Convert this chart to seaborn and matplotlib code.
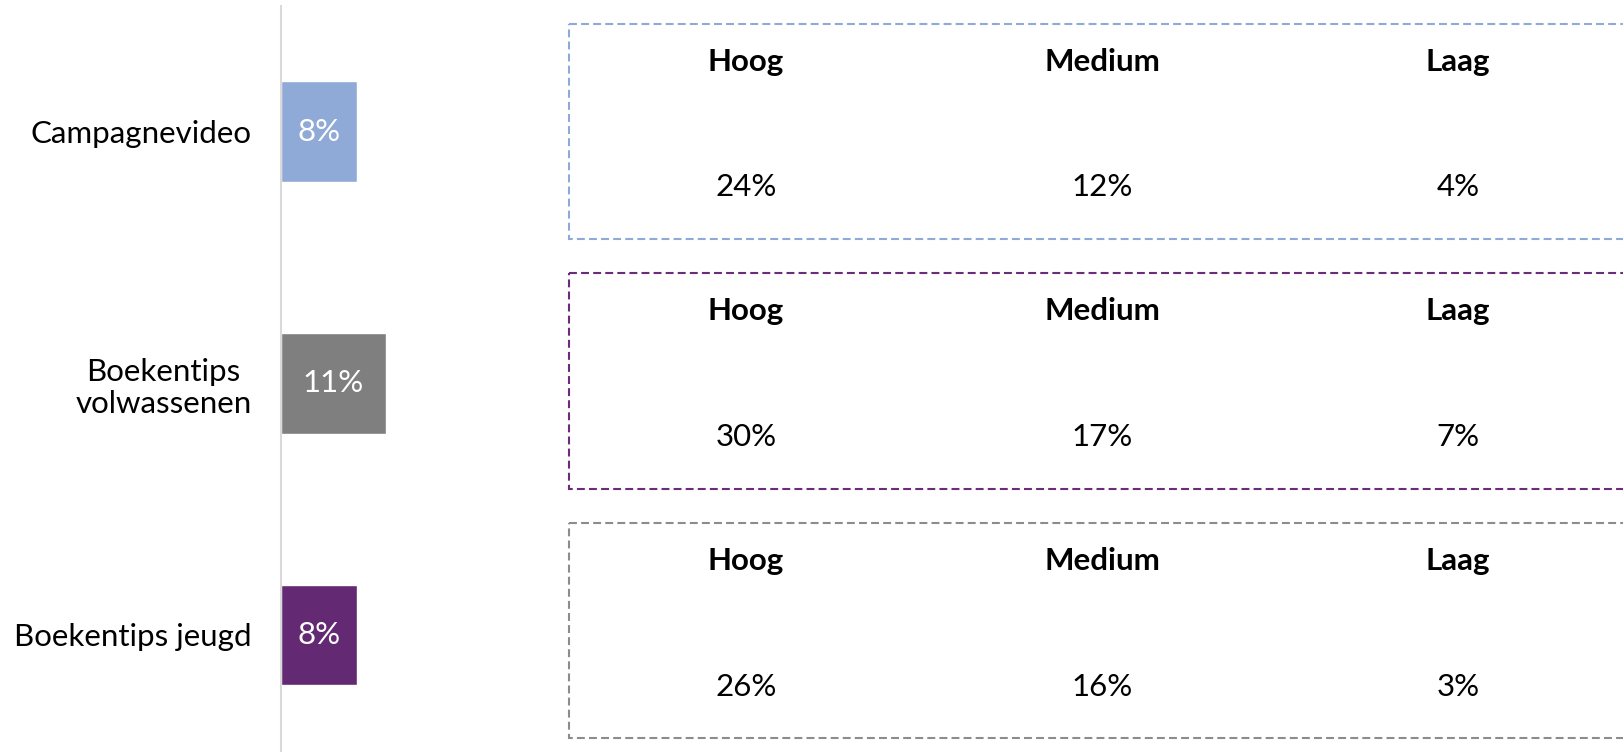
import matplotlib
matplotlib.use("Agg")
import matplotlib.pyplot as plt
from matplotlib.patches import Rectangle
import seaborn as sns
import pandas as pd

# Overall reach per channel and split by engagement level
channels = ["Campagnevideo", "Boekentips\nvolwassenen", "Boekentips jeugd"]
overall = [8, 11, 8]
levels = ["Hoog", "Medium", "Laag"]
hoog = [24, 30, 26]
medium = [12, 17, 16]
laag = [4, 7, 3]

bar_colors = ["#8FAAD6", "#7F7F7F", "#632A73"]
box_colors = ["#8FAAD6", "#6B2C7A", "#8C8C8C"]

sns.set_theme(style="white")
plt.rcParams["font.family"] = ["Lato", "DejaVu Sans"]

W, H = 1624, 752
fig = plt.figure(figsize=(W / 100, H / 100), dpi=100)

# Left: horizontal bars
ax = fig.add_axes([281 / W, 0, (549 - 281) / W, 1 - 6 / H])
df = pd.DataFrame({"channel": channels, "overall": overall})
sns.barplot(data=df, y="channel", x="overall", hue="channel",
            palette=bar_colors, orient="h", width=0.4, legend=False,
            saturation=1, ax=ax)
ax.set_xlim(0, 268 / 9.55)
ax.set_ylim(2.465, -0.499)
ax.set_xlabel("")
ax.set_ylabel("")
ax.set_xticks([])
ax.tick_params(axis="y", length=0, pad=21, labelsize=22.5, colors="black")
for lbl in ax.get_yticklabels():
    lbl.set_multialignment("center")
for s in ["top", "right", "bottom"]:
    ax.spines[s].set_visible(False)
ax.spines["left"].set_color("#D9D9D9")
ax.spines["left"].set_linewidth(1.5)
for container in ax.containers:
    ax.bar_label(container, labels=[f"{v:g}%" for v in container.datavalues],
                 label_type="center", color="white", fontsize=22.5)

# Right: dashed boxes with the breakdown per level
ax2 = fig.add_axes([549 / W, 0, (W - 549) / W, 1 - 6 / H])
ax2.set_xlim(-197 / 356, (W - 549 - 197) / 356)
ax2.set_ylim(2.486, -0.503)
ax2.axis("off")
box_left = (569 - 549 - 197) / 356
values = [hoog, medium, laag]
for i in range(len(channels)):
    ax2.add_patch(Rectangle((box_left, i - 0.4315), 4.0, 0.863, fill=False,
                            edgecolor=box_colors[i], linewidth=1.5,
                            linestyle=(0, (3.8, 2.0)), clip_on=True))
    for j, lev in enumerate(levels):
        ax2.text(j, i - 0.279, lev, ha="center", va="center",
                 fontsize=22.5, fontweight="bold", color="black")
        ax2.text(j, i + 0.224, f"{values[j][i]}%", ha="center", va="center",
                 fontsize=22.5, color="black")

fig.savefig("out.png", dpi=100, facecolor="white")
